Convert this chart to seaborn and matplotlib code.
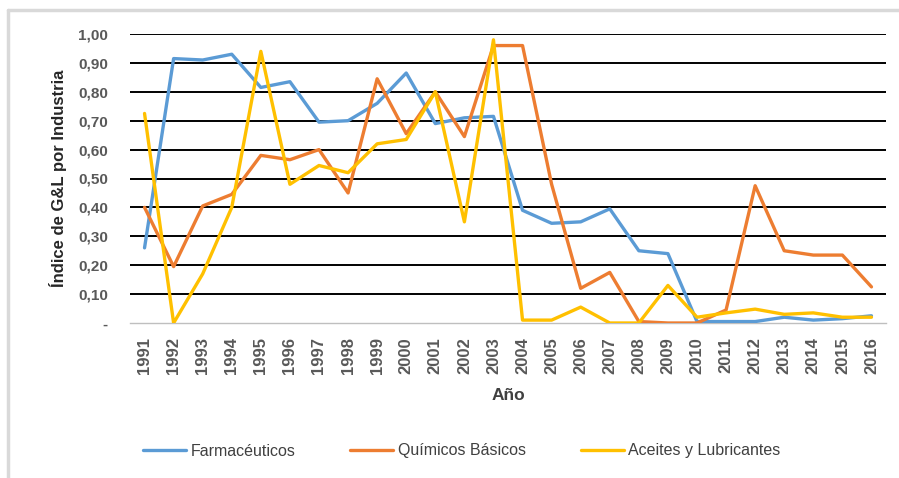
import matplotlib
matplotlib.use("Agg")
import matplotlib.pyplot as plt
import seaborn as sns
import numpy as np
import pandas as pd
from matplotlib.lines import Line2D

years = [str(y) for y in range(1991, 2017)]
farmaceuticos = [0.26, 0.915, 0.91, 0.93, 0.815, 0.835, 0.695, 0.70, 0.76, 0.865,
                 0.69, 0.71, 0.715, 0.39, 0.345, 0.35, 0.395, 0.25, 0.24, 0.005,
                 0.005, 0.005, 0.02, 0.01, 0.015, 0.025]
quimicos = [0.40, 0.195, 0.405, 0.445, 0.58, 0.565, 0.60, 0.45, 0.845, 0.655,
            0.80, 0.645, 0.96, 0.96, 0.48, 0.12, 0.175, 0.005, 0.0, 0.0,
            0.045, 0.475, 0.25, 0.235, 0.235, 0.125]
aceites = [0.725, 0.0, 0.17, 0.40, 0.94, 0.48, 0.545, 0.52, 0.62, 0.635,
           0.80, 0.35, 0.98, 0.01, 0.01, 0.055, 0.0, 0.0, 0.13, 0.02,
           0.035, 0.048, 0.03, 0.035, 0.02, 0.02]
series_names = ["Farmacéuticos", "Químicos Básicos", "Aceites y Lubricantes"]
colors = ["#5B9BD5", "#ED7D31", "#FFC000"]
yticks = [0, 0.1, 0.2, 0.3, 0.4, 0.5, 0.6, 0.7, 0.8, 0.9, 1.0]
ytick_labels = ["-", "0,10", "0,20", "0,30", "0,40", "0,50", "0,60", "0,70", "0,80", "0,90", "1,00"]

rows = []
for name, vals in zip(series_names, [farmaceuticos, quimicos, aceites]):
    for i, v in enumerate(vals):
        rows.append({"idx": i, "Año": years[i], "valor": v, "serie": name})
df = pd.DataFrame(rows)

sns.set_style("white")
plt.rcParams["font.family"] = ["Liberation Sans", "DejaVu Sans"]

fig = plt.figure(figsize=(8.99, 4.78), dpi=100)
ax = fig.add_axes([130/899, 1-323/478, 756/899, 289/478])

sns.lineplot(data=df, x="idx", y="valor", hue="serie", palette=colors,
             hue_order=series_names, linewidth=2.4, ax=ax, legend=False, zorder=3)

ax.set_xlim(-0.5, 25.5)
ax.set_ylim(0, 1.0)
ax.set_yticks(yticks)
ax.set_yticklabels(ytick_labels)
for y in yticks[1:]:
    ax.axhline(y, color="black", lw=1.4, zorder=1)

ax.set_xticks(range(len(years)))
ax.set_xticklabels(years, rotation=90)
ax.set_xticks(np.arange(-0.5, 26, 1), minor=True)
ax.tick_params(axis="x", which="major", length=0, pad=10)
ax.tick_params(axis="x", which="minor", length=6, color="#BFBFBF", width=1)
ax.tick_params(axis="y", length=0, pad=16)
for lab in ax.get_yticklabels():
    lab.set_fontweight("bold")
    lab.set_color("#595959")
    lab.set_fontsize(11)
for lab in ax.get_xticklabels():
    lab.set_fontweight("bold")
    lab.set_color("#595959")
    lab.set_fontsize(12)

for s in ["top", "right", "left"]:
    ax.spines[s].set_visible(False)
ax.spines["bottom"].set_color("#BFBFBF")
ax.spines["bottom"].set_linewidth(1)

ax.set_xlabel("Año", fontsize=12.5, fontweight="bold", color="#404040", labelpad=10)
ax.set_ylabel("Índice de G&L por Industria", fontsize=12, fontweight="bold",
              color="#262626", labelpad=8)

handles = [Line2D([0], [0], color=c, lw=2.4) for c in colors]
fig.legend(handles, series_names, loc="center", bbox_to_anchor=(462/899, 1-451/478),
           ncol=3, frameon=False, fontsize=11.5, handlelength=2.7, columnspacing=3.4,
           handletextpad=0.3, labelcolor="#404040")

# outer frame (left and top edges visible)
fig.add_artist(Line2D([8/899, 8/899], [0, 1-10/478], color="#D9D9D9", lw=2.5,
                      transform=fig.transFigure))
fig.add_artist(Line2D([8/899, 1], [1-10/478, 1-10/478], color="#D9D9D9", lw=2.5,
                      transform=fig.transFigure))

fig.savefig("out.png", dpi=100, facecolor="white")
